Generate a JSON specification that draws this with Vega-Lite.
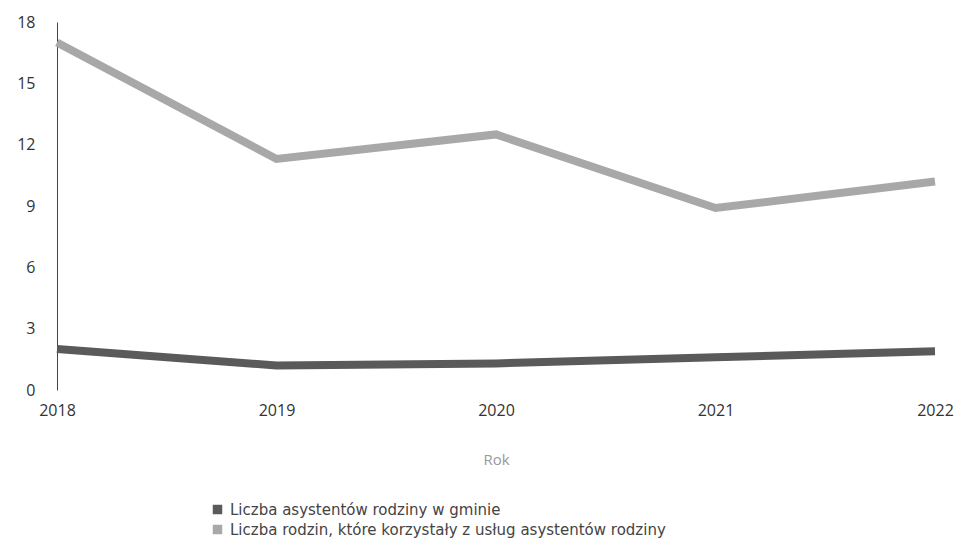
{
  "$schema": "https://vega.github.io/schema/vega-lite/v6.json",
  "width": 878,
  "height": 368,
  "autosize": {"type": "none"},
  "padding": {"left": 57, "top": 22, "right": 29, "bottom": 150},
  "background": "white",
  "config": {
    "view": {"stroke": null},
    "font": "Open Sans"
  },
  "data": {
    "values": [
      {"Rok": "2018", "seria": "Liczba asystentów rodziny w gminie", "wartosc": 2},
      {"Rok": "2019", "seria": "Liczba asystentów rodziny w gminie", "wartosc": 1.2},
      {"Rok": "2020", "seria": "Liczba asystentów rodziny w gminie", "wartosc": 1.3},
      {"Rok": "2021", "seria": "Liczba asystentów rodziny w gminie", "wartosc": 1.6},
      {"Rok": "2022", "seria": "Liczba asystentów rodziny w gminie", "wartosc": 1.9},
      {"Rok": "2018", "seria": "Liczba rodzin, które korzystały z usług asystentów rodziny", "wartosc": 17},
      {"Rok": "2019", "seria": "Liczba rodzin, które korzystały z usług asystentów rodziny", "wartosc": 11.3},
      {"Rok": "2020", "seria": "Liczba rodzin, które korzystały z usług asystentów rodziny", "wartosc": 12.5},
      {"Rok": "2021", "seria": "Liczba rodzin, które korzystały z usług asystentów rodziny", "wartosc": 8.9},
      {"Rok": "2022", "seria": "Liczba rodzin, które korzystały z usług asystentów rodziny", "wartosc": 10.2}
    ]
  },
  "mark": {"type": "line", "strokeWidth": 8, "strokeCap": "butt"},
  "encoding": {
    "x": {
      "field": "Rok",
      "type": "ordinal",
      "scale": {"type": "point", "padding": 0},
      "axis": {
        "title": "Rok",
        "titleFontSize": 15,
        "titleFontWeight": "normal",
        "titleColor": "#999",
        "titlePadding": 34,
        "labelAngle": 0,
        "labelFontSize": 16,
        "labelColor": "#333",
        "labelPadding": 12,
        "domain": false,
        "ticks": false,
        "grid": false
      }
    },
    "y": {
      "field": "wartosc",
      "type": "quantitative",
      "scale": {"domain": [0, 18]},
      "axis": {
        "title": null,
        "values": [0, 3, 6, 9, 12, 15, 18],
        "labelFontSize": 16,
        "labelColor": "#333",
        "labelPadding": 22,
        "ticks": false,
        "grid": false,
        "domain": true,
        "domainColor": "#444",
        "domainWidth": 1
      }
    },
    "color": {
      "field": "seria",
      "type": "nominal",
      "scale": {
        "domain": ["Liczba asystentów rodziny w gminie", "Liczba rodzin, które korzystały z usług asystentów rodziny"],
        "range": ["#5a5a5a", "#a8a8a8"]
      },
      "legend": {
        "title": null,
        "orient": "none",
        "legendX": 153,
        "legendY": 480,
        "direction": "vertical",
        "symbolType": "square",
        "symbolSize": 90,
        "symbolStrokeWidth": 0,
        "labelFont": "DejaVu Sans",
        "labelFontSize": 15,
        "labelColor": "#444",
        "labelLimit": 700,
        "rowPadding": 4,
        "labelOffset": 5,
        "encode": {
          "symbols": {"update": {"fill": {"scale": "color", "field": "value"}, "fillOpacity": {"value": 1}}}
        }
      }
    }
  }
}
